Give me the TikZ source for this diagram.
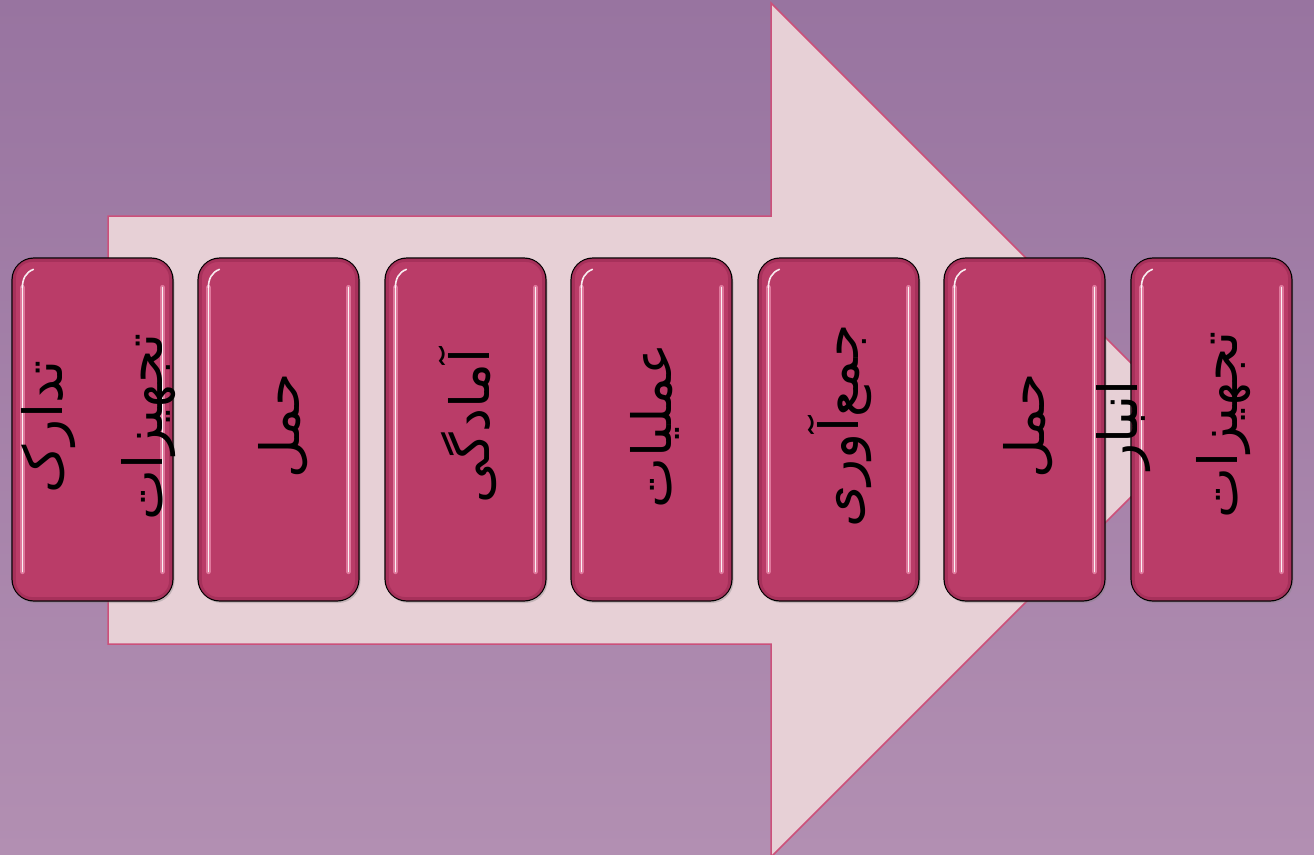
\documentclass[tikz,border=0pt]{standalone}
\usepackage{fontspec}
\newfontfamily\arabicfont[Script=Arabic]{DejaVu Sans}
\TeXXeTstate=1
\definecolor{bgtop}{RGB}{152,116,160}
\definecolor{bgbot}{RGB}{178,143,178}
\definecolor{arrowfill}{RGB}{231,208,214}
\definecolor{arrowline}{RGB}{204,80,122}
\definecolor{boxfill}{RGB}{186,60,104}
\definecolor{boxdark}{RGB}{150,40,80}
\definecolor{glow}{RGB}{255,170,200}
\tikzset{
  bigarrow/.style={fill=arrowfill, draw=arrowline, line width=1.5pt, line join=miter},
  stepbox/.style={draw=black, line width=1.2pt, fill=boxfill, rounded corners=22pt,
    minimum width=161pt, minimum height=343pt, inner sep=0pt,
    drop shadow={shadow xshift=1.5pt, shadow yshift=-2pt, opacity=0.35}},
  lbl/.style={font=\arabicfont\fontsize{54}{100}\selectfont, rotate=90, align=center, inner sep=0pt, text=black},
  hlglow/.style={draw=glow, line width=5pt, line cap=round, opacity=0.55},
  hlline/.style={draw=white, line width=1.6pt, line cap=round, opacity=0.9},
  inner/.style={draw=boxdark, line width=3pt, rounded corners=18pt, opacity=0.5}
}
\usetikzlibrary{shadows}
\begin{document}
\begin{tikzpicture}[x=1pt,y=-1pt]
\useasboundingbox (0,0) rectangle (1314,854);
\shade[top color=bgtop, bottom color=bgbot] (0,0) rectangle (1314,854);
\draw[bigarrow] (108,216) -- (771,216) -- (771,3) -- (1198,430) -- (771,857) -- (771,644) -- (108,644) -- cycle;
\foreach \i/\x in {1/92.5,2/278.5,3/465.5,4/651.5,5/838.5,6/1024.5,7/1211.5}{
  \node[stepbox] (b\i) at (\x,429.5) {};
  \draw[inner] ([xshift=3pt,yshift=-3pt]b\i.north west) rectangle ([xshift=-3pt,yshift=3pt]b\i.south east);
  \draw[hlglow] ([xshift=11pt,yshift=-30pt]b\i.north west) -- ([xshift=11pt,yshift=30pt]b\i.south west);
  \draw[hlline] ([xshift=11pt,yshift=-30pt]b\i.north west) -- ([xshift=11pt,yshift=30pt]b\i.south west);
  \draw[hlglow] ([xshift=-11pt,yshift=-30pt]b\i.north east) -- ([xshift=-11pt,yshift=30pt]b\i.south east);
  \draw[hlline] ([xshift=-11pt,yshift=-30pt]b\i.north east) -- ([xshift=-11pt,yshift=30pt]b\i.south east);
  \draw[hlline] ([xshift=11pt,yshift=-30pt]b\i.north west) to[out=90,in=200] ([xshift=22pt,yshift=-12pt]b\i.north west);
}
\node[lbl] (t1) at (99,427) {\beginR تدارک\endR\\\beginR تجهیزات\endR};
\node[lbl] (t2) at (283,426) {\beginR حمل\endR};
\node[lbl] (t3) at (468,426) {\beginR آمادگی\endR};
\node[lbl] (t4) at (655,426) {\beginR عملیات\endR};
\node[lbl] (t5) at (840,426) {\beginR جمع^^^^200cآوری\endR};
\node[lbl] (t6) at (1028,426) {\beginR حمل\endR};
\node[lbl] (t7) at (1174,425) {\beginR انبار\endR\\\beginR تجهیزات\endR};
\end{tikzpicture}
\end{document}
